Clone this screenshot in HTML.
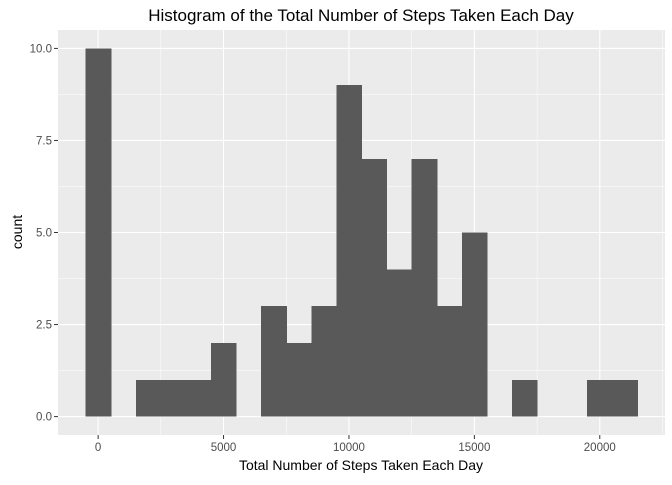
<!DOCTYPE html>
<html><head><meta charset="utf-8"><style>
body{margin:0;background:#fff;font-family:"Liberation Sans",sans-serif;}
</style></head><body>
<svg id="chart" width="672" height="480" xmlns="http://www.w3.org/2000/svg" font-family="Liberation Sans, sans-serif">
<text x="361" y="21" text-anchor="middle" font-size="17" fill="#000">Histogram of the Total Number of Steps Taken Each Day</text>
<rect x="58" y="30" width="607" height="405" fill="#ebebeb"/>
<g id="grid"></g><g id="bars" shape-rendering="crispEdges"></g><g id="axes"></g>
<text x="361" y="470" text-anchor="middle" font-size="14" fill="#000">Total Number of Steps Taken Each Day</text>
<text transform="translate(22,232) rotate(-90)" text-anchor="middle" font-size="14" fill="#000">count</text>
</svg>
<script>
const binCenters=[0,1000,2000,3000,4000,5000,6000,7000,8000,9000,10000,11000,12000,13000,14000,15000,16000,17000,18000,19000,20000,21000];
const counts=[10,0,1,1,1,2,0,3,2,3,9,7,4,7,3,5,0,1,0,0,1,1];
const xTicks=[0,5000,10000,15000,20000];
const yTicks=[0,2.5,5,7.5,10];
const yTickLabels=["0.0","2.5","5.0","7.5","10.0"];
const binWidth=1000;
const L=58,R=665,T=30,B=435;
const xMin=-1600,xMax=22600,yMin=-0.5,yMax=10.5;
const sx=v=>L+(v-xMin)/(xMax-xMin)*(R-L);
const sy=v=>B-(v-yMin)/(yMax-yMin)*(B-T);
const NS="http://www.w3.org/2000/svg";
function mk(t,a,p){const e=document.createElementNS(NS,t);for(const k in a)e.setAttribute(k,a[k]);p.appendChild(e);return e;}
const grid=document.getElementById('grid'),bars=document.getElementById('bars'),axes=document.getElementById('axes');
for(let i=0;i<xTicks.length;i++){
  const minor=xTicks[i]-2500;
  const m=mk('line',{x1:sx(minor),x2:sx(minor),y1:T,y2:B,stroke:'#fff','stroke-width':0.5},grid);
  
  
}
const mm=mk('line',{x1:sx(22500),x2:sx(22500),y1:T,y2:B,stroke:'#fff','stroke-width':0.5},grid);


for(let i=0;i<yTicks.length-1;i++){
  const v=(yTicks[i]+yTicks[i+1])/2;
  const m=mk('line',{x1:L,x2:R,y1:sy(v),y2:sy(v),stroke:'#fff','stroke-width':0.5},grid);
  
  
}
xTicks.forEach(v=>{
  const g=mk('line',{x1:sx(v),x2:sx(v),y1:T,y2:B,stroke:'#fff','stroke-width':1.1},grid);
  
  
  const t=mk('line',{x1:sx(v),x2:sx(v),y1:B,y2:B+4,stroke:'#333','stroke-width':1},axes);
  
  
  const l=mk('text',{x:sx(v),y:B+16,'text-anchor':'middle','font-size':11.5,fill:'#4d4d4d'},axes);
  l.textContent=v;
  
  
});
yTicks.forEach((v,i)=>{
  const g=mk('line',{x1:L,x2:R,y1:sy(v),y2:sy(v),stroke:'#fff','stroke-width':1.1},grid);
  
  
  const t=mk('line',{x1:L-4,x2:L,y1:sy(v),y2:sy(v),stroke:'#333','stroke-width':1},axes);
  
  
  const l=mk('text',{x:L-6,y:sy(v)+4,'text-anchor':'end','font-size':11.5,fill:'#4d4d4d'},axes);
  l.textContent=yTickLabels[i];
  
  
});
binCenters.forEach((c,i)=>{
  if(counts[i]<=0)return;
  const x0=sx(c-binWidth/2),x1=sx(c+binWidth/2);
  const r=mk('rect',{x:x0,y:sy(counts[i]),width:x1-x0+0.6,height:sy(0)-sy(counts[i]),fill:'#595959'},bars);
  
  
});
</script>
</body></html>
